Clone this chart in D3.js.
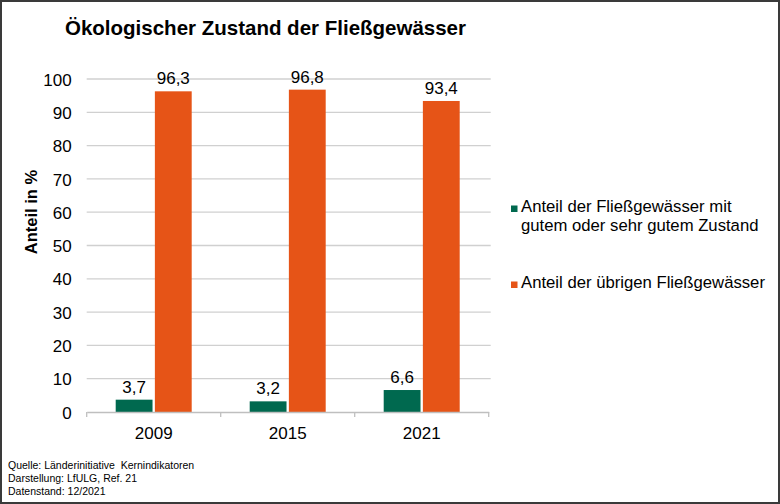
<!DOCTYPE html>
<html lang="de">
<head>
<meta charset="UTF-8">
<script src="https://d3js.org/d3.v7.min.js"></script>
<title>Ökologischer Zustand der Fließgewässer</title>
<style>
  body { margin: 0; background: #fff; }
  text { font-family: "Liberation Sans", Arial, sans-serif; fill: #000; }
</style>
</head>
<body>
<div id="chart"></div>
<script>
// Daten
var jahre = ["2009", "2015", "2021"];
var serien = ["gut", "uebrig"];
var anteilGut = [3.7, 3.2, 6.6];
var anteilUebrig = [96.3, 96.8, 93.4];
var yTicks = [0, 10, 20, 30, 40, 50, 60, 70, 80, 90, 100];
var legendeGut = ["Anteil der Fließgewässer mit", "gutem oder sehr gutem Zustand"];
var legendeUebrig = ["Anteil der übrigen Fließgewässer"];
var fussnote = ["Quelle: Länderinitiative  Kernindikatoren", "Darstellung: LfULG, Ref. 21", "Datenstand: 12/2021"];

var farben = { gut: "#00694f", uebrig: "#e65417" };

var W = 780, H = 504;
var plot = { left: 86.7, right: 488.7, top: 79, bottom: 412 };

var svg = d3.select("#chart").append("svg")
    .attr("width", W).attr("height", H);

svg.append("rect")
    .attr("x", 1).attr("y", 1).attr("width", W - 2).attr("height", H - 2)
    .attr("fill", "#fff").attr("stroke", "#3a3a3a").attr("stroke-width", 2);

// Skalen
var x = d3.scaleBand().domain(jahre).range([plot.left, plot.right]);
var xInner = d3.scaleBand().domain(serien).range([-38, 38]).paddingInner(0.06);
var y = d3.scaleLinear().domain([0, 100]).range([plot.bottom, plot.top]);

// Gitterlinien
svg.append("g").selectAll("line")
    .data(yTicks.filter(function (d) { return d > 0; }))
    .enter().append("line")
    .attr("x1", plot.left).attr("x2", plot.right + 2)
    .attr("y1", function (d) { return y(d); })
    .attr("y2", function (d) { return y(d); })
    .attr("stroke", "#d0d0d0").attr("stroke-width", 1.3);

// y-Achse (nur Beschriftung)
var yAxis = svg.append("g")
    .attr("transform", "translate(" + plot.left + ",0)")
    .call(d3.axisLeft(y).tickValues(yTicks).tickSize(0).tickPadding(15));
yAxis.select(".domain").remove();
yAxis.selectAll("text")
    .attr("dy", "0.36em")
    .style("font-size", "17px")
    .style("font-family", "'Liberation Sans', Arial, sans-serif");

svg.append("text")
    .attr("transform", "translate(37,212) rotate(-90)")
    .attr("text-anchor", "middle")
    .style("font-size", "16.5px")
    .style("font-weight", "bold")
    .text("Anteil in %");

// Daten für Balken
var daten = [];
jahre.forEach(function (j, i) {
    daten.push({ jahr: j, serie: "gut", wert: anteilGut[i] });
    daten.push({ jahr: j, serie: "uebrig", wert: anteilUebrig[i] });
});

var balken = svg.append("g");
balken.selectAll("rect")
    .data(daten)
    .enter().append("rect")
    .attr("x", function (d) { return x(d.jahr) + x.bandwidth() / 2 + xInner(d.serie); })
    .attr("width", xInner.bandwidth())
    .attr("y", function (d) { return y(d.wert); })
    .attr("height", function (d) { return y(0) - y(d.wert); })
    .attr("fill", function (d) { return farben[d.serie]; });

balken.selectAll("text")
    .data(daten)
    .enter().append("text")
    .attr("x", function (d) { return x(d.jahr) + x.bandwidth() / 2 + xInner(d.serie) + xInner.bandwidth() / 2; })
    .attr("y", function (d) { return y(d.wert) - 7; })
    .attr("text-anchor", "middle")
    .style("font-size", "17px")
    .text(function (d) { return d3.format(".1f")(d.wert).replace(".", ","); });

// x-Achse
var xAxis = svg.append("g")
    .attr("transform", "translate(0," + plot.bottom + ")")
    .call(d3.axisBottom(x).tickSize(0).tickPadding(15));
xAxis.select(".domain").attr("stroke", "#bfbfbf").attr("stroke-width", 1.3);
xAxis.selectAll("text")
    .attr("dy", "0.71em")
    .style("font-size", "17px")
    .style("font-family", "'Liberation Sans', Arial, sans-serif");

var grenzen = jahre.map(function (j) { return x(j); }).concat([x.range()[1]]);
xAxis.selectAll(".grenze")
    .data(grenzen)
    .enter().append("line")
    .attr("class", "grenze")
    .attr("x1", function (d) { return d; }).attr("x2", function (d) { return d; })
    .attr("y1", 0).attr("y2", 5)
    .attr("stroke", "#bfbfbf").attr("stroke-width", 1.3);

// Titel
svg.append("text")
    .attr("x", 65).attr("y", 35)
    .style("font-size", "20.5px")
    .style("font-weight", "bold")
    .text("Ökologischer Zustand der Fließgewässer");

// Legende
var legende = svg.append("g").attr("transform", "translate(511,0)");
var eintraege = [
    { serie: "gut", zeilen: legendeGut, y: 212 },
    { serie: "uebrig", zeilen: legendeUebrig, y: 288 }
];
eintraege.forEach(function (e) {
    legende.append("rect")
        .attr("x", 0).attr("y", e.y - 6.5)
        .attr("width", 6.5).attr("height", 6.5)
        .attr("fill", farben[e.serie]);
    var t = legende.append("text")
        .attr("x", 10).attr("y", e.y)
        .style("font-size", "16.7px");
    e.zeilen.forEach(function (z, k) {
        t.append("tspan").attr("x", 10).attr("dy", k === 0 ? 0 : 19).text(z);
    });
});

// Fußnote
svg.append("g").selectAll("text")
    .data(fussnote)
    .enter().append("text")
    .attr("x", 8)
    .attr("y", function (d, i) { return 469 + i * 13; })
    .style("font-size", "10.5px")
    .style("white-space", "pre")
    .text(function (d) { return d; });
</script>
</body>
</html>
